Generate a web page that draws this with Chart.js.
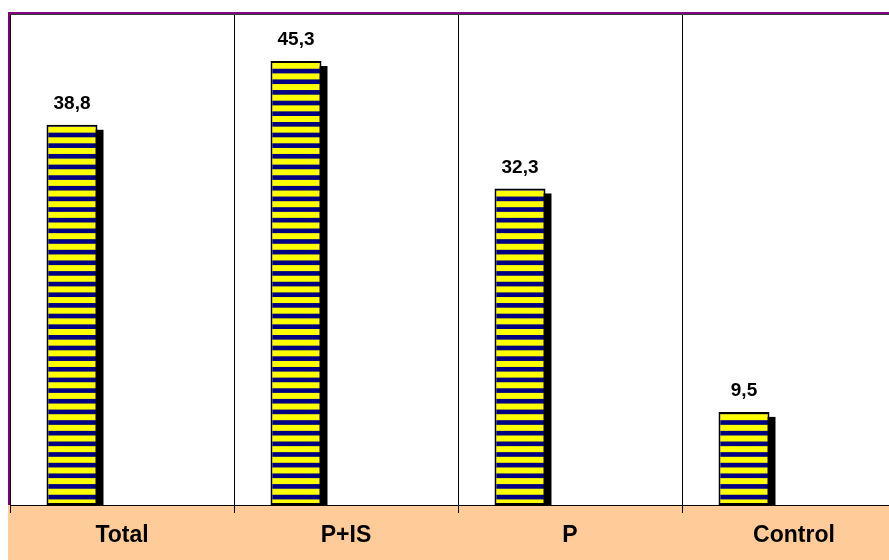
<!DOCTYPE html>
<html>
<head>
<meta charset="utf-8">
<script src="https://cdn.jsdelivr.net/npm/chart.js@4.4.1/dist/chart.umd.min.js"></script>
<style>
  html, body { margin: 0; padding: 0; background: #ffffff; }
  #wrap { width: 889px; height: 560px; overflow: hidden; position: relative; }
  canvas { display: block; }
</style>
</head>
<body>
<div id="wrap"><canvas id="chart" width="920" height="560"></canvas></div>
<script>
// Group names shown along the bottom band
const categories = ['Total', 'P+IS', 'P', 'Control'];
// Percentage per group
const percentages = [38.8, 45.3, 32.3, 9.5];
// Second (empty) series that keeps each bar on the left half of its group
const emptySeries = [null, null, null, null];
// Value axis range
const axisMin = 0;
const axisMax = 50;

const PEACH = '#ffcc99';
const PURPLE = '#800080';
const YELLOW = '#ffff00';
const NAVY = '#000080';

// Horizontal yellow / navy stripes used as the bar fill
function makeStripes(ctx) {
  const period = 10.65, count = 20, phase = 9.5, yellowH = 6.0;
  const h = Math.round(period * count);
  const tile = document.createElement('canvas');
  tile.width = 8; tile.height = h;
  const t = tile.getContext('2d');
  t.fillStyle = NAVY;
  t.fillRect(0, 0, 8, h);
  t.fillStyle = YELLOW;
  for (let i = -1; i <= count; i++) {
    t.fillRect(0, i * period + phase, 8, yellowH);
  }
  return ctx.createPattern(tile, 'repeat');
}

const canvas = document.getElementById('chart');
const ctx = canvas.getContext('2d');
const stripes = makeStripes(ctx);

// Peach frame, white plot area and the frame borders
const framePlugin = {
  id: 'frame',
  beforeDraw(chart) {
    const { ctx, chartArea: a, width, height } = chart;
    ctx.save();
    ctx.fillStyle = PEACH;
    ctx.fillRect(8, 12, width - 8, height - 12);
    ctx.fillStyle = '#ffffff';
    ctx.fillRect(a.left, a.top, a.right - a.left, a.bottom - a.top);
    // dark inner edge of the plot area
    ctx.fillStyle = '#3a3a3a';
    ctx.fillRect(a.left, a.top - 1, a.right - a.left, 1);
    // purple outer border (top and left)
    ctx.fillStyle = PURPLE;
    ctx.fillRect(8, 12, width - 8, 2);
    ctx.fillRect(8, 12, 2, a.bottom - 12);
    ctx.restore();
  }
};

// Solid drop shadow behind every bar, offset down and to the right
const shadowPlugin = {
  id: 'barShadow',
  beforeDatasetsDraw(chart) {
    const { ctx, chartArea: a } = chart;
    const meta = chart.getDatasetMeta(0);
    ctx.save();
    ctx.fillStyle = '#000000';
    meta.data.forEach(bar => {
      const p = bar.getProps(['x', 'y', 'base', 'width'], true);
      const top = p.y + 5;
      const bottom = Math.min(p.base, a.bottom) + 1;
      ctx.fillRect(p.x - p.width / 2 + 6, top, p.width, bottom - top);
    });
    ctx.restore();
  }
};

// Value labels above the bars, with a decimal comma
const valueLabelPlugin = {
  id: 'valueLabels',
  afterDatasetsDraw(chart) {
    const { ctx } = chart;
    const meta = chart.getDatasetMeta(0);
    ctx.save();
    ctx.fillStyle = '#000000';
    ctx.font = 'bold 19px "Liberation Sans", Arial, sans-serif';
    ctx.textAlign = 'center';
    ctx.textBaseline = 'middle';
    meta.data.forEach((bar, i) => {
      const p = bar.getProps(['x', 'y'], true);
      const txt = percentages[i].toFixed(1).replace('.', ',');
      ctx.fillText(txt, p.x, p.y - 21);
    });
    ctx.restore();
  }
};

new Chart(ctx, {
  type: 'bar',
  data: {
    labels: categories,
    datasets: [
      {
        data: percentages,
        backgroundColor: stripes,
        borderColor: '#000000',
        borderWidth: 2,
        borderSkipped: false,
        categoryPercentage: 0.893,
        barPercentage: 0.51
      },
      {
        data: emptySeries,
        backgroundColor: 'rgba(0,0,0,0)',
        categoryPercentage: 0.893,
        barPercentage: 0.51
      }
    ]
  },
  options: {
    responsive: false,
    animation: false,
    events: [],
    layout: { padding: { top: 15, left: 10, right: 14, bottom: 0 } },
    plugins: {
      legend: { display: false },
      tooltip: { enabled: false },
      title: { display: false }
    },
    scales: {
      x: {
        offset: true,
        grid: {
          offset: true,
          color: '#000000',
          lineWidth: 1,
          drawOnChartArea: true,
          drawTicks: true,
          tickLength: 8
        },
        border: { display: true, color: '#000000', width: 1 },
        ticks: {
          color: '#000000',
          padding: 9,
          maxRotation: 0,
          font: { family: '"Liberation Sans", Arial, sans-serif', size: 23, weight: 'bold' }
        },
        afterFit(scale) { scale.height = 55; }
      },
      y: {
        display: false,
        min: axisMin,
        max: axisMax
      }
    }
  },
  plugins: [framePlugin, shadowPlugin, valueLabelPlugin]
});
</script>
</body>
</html>
